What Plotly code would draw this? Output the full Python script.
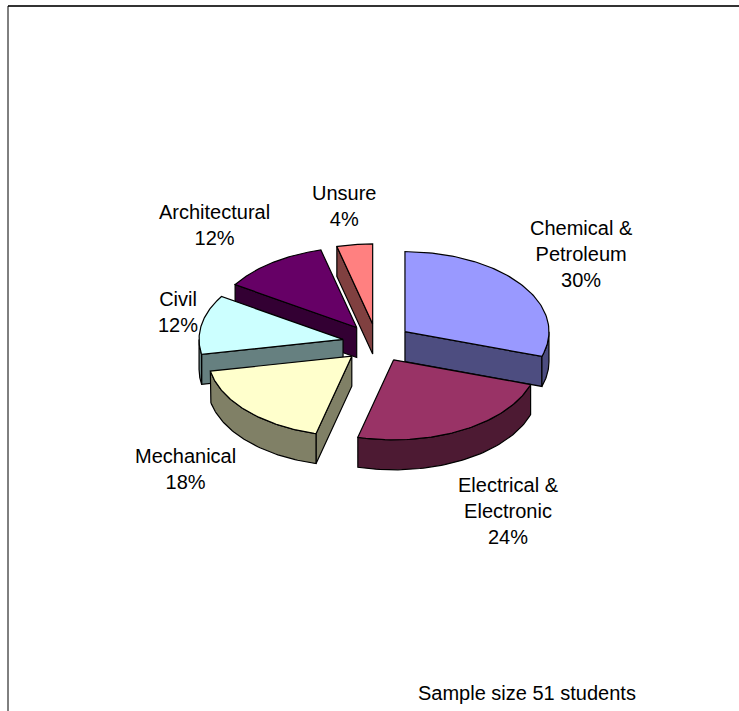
import numpy as np
import plotly.graph_objects as go

# ---------------- data ----------------
categories = ["Chemical &<br>Petroleum", "Electrical &<br>Electronic", "Mechanical",
              "Civil", "Architectural", "Unsure"]
percentages = [30, 24, 18, 12, 12, 4]
top_colors = ["#9999FF", "#993366", "#FFFFCC", "#CCFFFF", "#660066", "#FF8080"]
side_colors = ["#4D4D80", "#4D1A33", "#808066", "#668080", "#330033", "#804040"]
footnote = "Sample size 51 students"

# ---------------- layout constants ----------------
W, H = 739, 711
CX, CY = 377, 343          # pie centre (px)
RX, RY = 144, 80           # ellipse radii (px)
EXPLODE = 0.24             # explosion as fraction of radius
DEPTH = 30                 # thickness (px)
label_pos = [(581, 254), (508, 511), (185, 469), (178, 312), (214, 225), (344, 206)]
FONT = "Liberation Sans, Arial, sans-serif"

total = float(sum(percentages))
bounds = np.concatenate([[0.0], np.cumsum(percentages)]) / total * 360.0


def rim(theta, ox, oy, dz=0.0):
    t = np.radians(theta)
    return ox + RX * np.sin(t), oy - RY * np.cos(t) + dz


fig = go.Figure()
slices = []
for i, (a0, a1) in enumerate(zip(bounds[:-1], bounds[1:])):
    m = np.radians((a0 + a1) / 2)
    ox = CX + EXPLODE * RX * np.sin(m)
    oy = CY - EXPLODE * RY * np.cos(m)
    slices.append((oy, i, a0, a1, ox))

slices.sort()
for oy, i, a0, a1, ox in slices:
    name = categories[i].replace("<br>", " ")
    faces = []
    # radial faces
    if np.sin(np.radians(a0)) < -1e-6:
        x0, y0 = rim(a0, ox, oy)
        faces.append(([ox, x0, x0, ox, ox], [oy, y0, y0 + DEPTH, oy + DEPTH, oy], side_colors[i]))
    if np.sin(np.radians(a1)) > 1e-6:
        x1, y1 = rim(a1, ox, oy)
        faces.append(([ox, x1, x1, ox, ox], [oy, y1, y1 + DEPTH, oy + DEPTH, oy], side_colors[i]))
    # outer wall (front half only)
    lo, hi = max(a0, 90.0), min(a1, 270.0)
    if lo < hi:
        th = np.linspace(lo, hi, 60)
        xt, yt = rim(th, ox, oy)
        xb, yb = rim(th[::-1], ox, oy, DEPTH)
        xs = np.concatenate([xt, xb, xt[:1]])
        ys = np.concatenate([yt, yb, yt[:1]])
        faces.append((xs, ys, side_colors[i]))
    # top face
    th = np.linspace(a0, a1, 80)
    xa, ya = rim(th, ox, oy)
    xs = np.concatenate([[ox], xa, [ox]])
    ys = np.concatenate([[oy], ya, [oy]])
    faces.append((xs, ys, top_colors[i]))

    for xs, ys, col in faces:
        fig.add_trace(go.Scatter(
            x=list(xs), y=list(ys), mode="lines", fill="toself",
            fillcolor=col, line=dict(color="black", width=1.2),
            name=name, legendgroup=name, showlegend=False,
            hoverinfo="text", text=f"{name}: {percentages[i]}%"))

annotations = []
for i, cat in enumerate(categories):
    lx, ly = label_pos[i]
    annotations.append(dict(
        x=lx, y=ly, xref="x", yref="y", text=f"{cat}<br>{percentages[i]}%",
        showarrow=False, xanchor="center", yanchor="middle", align="center",
        font=dict(family=FONT, size=20, color="black")))
annotations.append(dict(
    x=527, y=693, xref="x", yref="y", text=footnote, showarrow=False,
    xanchor="center", yanchor="middle", font=dict(family=FONT, size=20, color="black")))

shapes = [
    dict(type="line", xref="x", yref="y", x0=8, y0=6, x1=W, y1=6,
         line=dict(color="#333333", width=2)),
    dict(type="line", xref="x", yref="y", x0=8, y0=6, x1=8, y1=H,
         line=dict(color="black", width=1)),
]

fig.update_layout(
    width=W, height=H, margin=dict(l=0, r=0, t=0, b=0),
    paper_bgcolor="white", plot_bgcolor="white",
    xaxis=dict(range=[0, W], visible=False, fixedrange=True),
    yaxis=dict(range=[H, 0], visible=False, fixedrange=True),
    annotations=annotations, shapes=shapes, showlegend=False,
)

fig.write_html("out.html")
